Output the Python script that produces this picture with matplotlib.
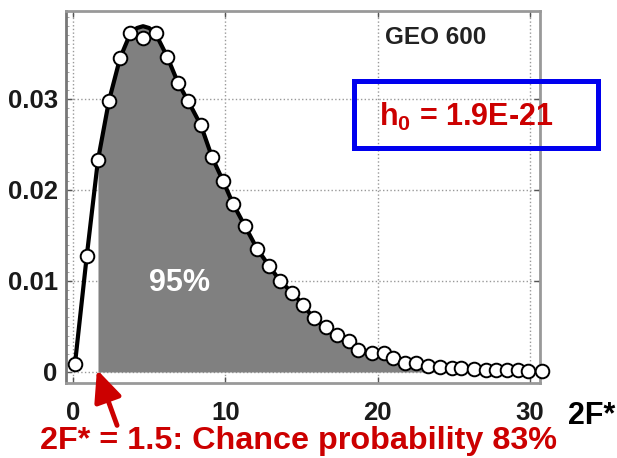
import numpy as np
import matplotlib
matplotlib.use('Agg')
import matplotlib.pyplot as plt
from matplotlib.patches import Rectangle

plt.rcParams['font.family'] = ['Liberation Sans', 'DejaVu Sans']
plt.rcParams['mathtext.fontset'] = 'custom'
plt.rcParams['mathtext.bf'] = 'Liberation Sans:bold'
plt.rcParams['mathtext.rm'] = 'Liberation Sans:bold'

# Data
obs_x = [0.13, 0.90, 1.64, 2.36, 3.09, 3.74, 4.60, 5.45, 6.17, 6.89, 7.55, 8.40, 9.13, 9.85,
         10.5, 11.3, 12.1, 12.9, 13.6, 14.4, 15.1, 15.8, 16.6, 17.3, 18.1, 18.7, 19.6, 20.4,
         21.0, 21.8, 22.5, 23.3, 24.1, 24.9, 25.5, 26.3, 27.1, 27.8, 28.5, 29.2, 29.9, 30.8]
obs_y = [0.0009, 0.0127, 0.0233, 0.0298, 0.0345, 0.0373, 0.0367, 0.0373, 0.0346, 0.0318,
         0.0298, 0.0271, 0.0236, 0.0210, 0.0185, 0.0160, 0.0135, 0.0116, 0.0100, 0.0087,
         0.0074, 0.0059, 0.0049, 0.0041, 0.0034, 0.0024, 0.0021, 0.0021, 0.0015, 0.0010,
         0.0010, 0.0007, 0.0005, 0.0004, 0.0004, 0.0003, 0.0002, 0.0002, 0.0002, 0.0002,
         0.0001, 0.0001]
# theoretical curve
curve_x = [0.13, 0.90, 1.64, 2.36, 3.09, 3.74, 4.2, 4.6, 5.0, 5.45, 6.17, 6.89, 7.55, 8.40,
           9.13, 9.85, 10.5, 11.3, 12.1, 12.9, 13.6, 14.4, 15.1, 15.8, 16.6, 17.3, 18.1,
           18.7, 19.6, 20.4, 21.0, 21.8, 22.5, 23.3, 24.1, 24.9, 25.5, 26.3, 27.1, 27.8,
           28.5, 29.2, 29.9, 30.66]
curve_y = [0.0009, 0.0127, 0.0233, 0.0298, 0.0345, 0.0371, 0.0378, 0.0380, 0.0378, 0.0371,
           0.0347, 0.0318, 0.0298, 0.0271, 0.0236, 0.0210, 0.0185, 0.0160, 0.0135, 0.0116,
           0.0100, 0.0087, 0.0074, 0.0059, 0.0049, 0.0041, 0.0034, 0.0026, 0.0021, 0.0019,
           0.0015, 0.0011, 0.0009, 0.0007, 0.0005, 0.0004, 0.0004, 0.0003, 0.0002, 0.0002,
           0.0002, 0.0002, 0.0001, 0.0001]
fstar = 1.64
xticks = [0, 10, 20, 30]
yticks = [0, 0.01, 0.02, 0.03]
yticklabels = ['0', '0.01', '0.02', '0.03']

W, H = 617, 458
def fx(px):
    return px/W
def fy(py):
    return 1.0-py/H

fig = plt.figure(figsize=(6.17, 4.58), dpi=100, facecolor='w')
ax = fig.add_axes([fx(66), fy(383), (540-66)/W, (383-11)/H])

cx = np.array(curve_x)
cy = np.array(curve_y)
cnd = cx >= fstar
ax.fill_between(cx[cnd], 0, cy[cnd], color='#808080', lw=0, zorder=2)
ax.plot(cx, cy, color='k', lw=3.0, zorder=3)
ax.plot(obs_x, obs_y, 'o', ms=9.8, mfc='w', mec='k', mew=1.4, zorder=4, clip_on=False)

ax.set_xlim(-0.46, 30.66)
ax.set_ylim(-0.00121, 0.03967)
ax.set_xticks(xticks)
ax.set_xticklabels([str(v) for v in xticks])
ax.set_yticks(yticks)
ax.set_yticklabels(yticklabels)
ax.set_yticks(np.arange(0, 0.0396, 0.001), minor=True)
ax.tick_params(which='major', direction='in', top=True, right=True, length=4, width=1,
               color='#555', labelsize=18.5)
ax.tick_params(axis='y', which='major', pad=6)
ax.tick_params(axis='x', which='major', pad=13)
ax.tick_params(which='minor', direction='in', left=True, right=False, length=2, width=0.6, color='#999')
for lab in ax.get_xticklabels()+ax.get_yticklabels():
    lab.set_fontweight('bold')
    lab.set_color('#1a1a1a')
ax.grid(True, which='major', ls=':', color='#999', lw=1.0)
ax.set_axisbelow(True)
for s in ax.spines.values():
    s.set_color('#999')
    s.set_linewidth(2)
ax.spines['left'].set_color('#777')

# labels and annotations
fig.text(fx(436), fy(38), 'GEO 600', fontsize=17.5, fontweight='bold', color='#222', ha='center', va='center')
fig.text(fx(180), fy(283), '95%', fontsize=22, fontweight='bold', color='w', ha='center', va='center')
fig.text(fx(592), fy(416), '2F*', fontsize=22, fontweight='bold', color='k', ha='center', va='center')
fig.text(fx(298), fy(441), '2F* = 1.5: Chance probability 83%', fontsize=23.3, fontweight='bold',
         color='#cc0000', ha='center', va='center')

box = Rectangle((fx(354), fy(148)), (598-354)/W, (148-81)/H, transform=fig.transFigure,
                fill=False, ec='#0000ee', lw=3.6)
fig.add_artist(box)
fig.text(fx(466), fy(117), r'$\mathbf{h_0}$ = 1.9E-21', fontsize=22, fontweight='bold',
         color='#cc0000', ha='center', va='center')

ax.annotate('', xy=(fx(96), fy(367)), xycoords='figure fraction',
            xytext=(fx(118), fy(428)), textcoords='figure fraction',
            arrowprops=dict(arrowstyle='-|>,head_length=1.9,head_width=0.85', color='#cc0000', lw=3.5),
            annotation_clip=False)

plt.savefig('out.png', dpi=100)
